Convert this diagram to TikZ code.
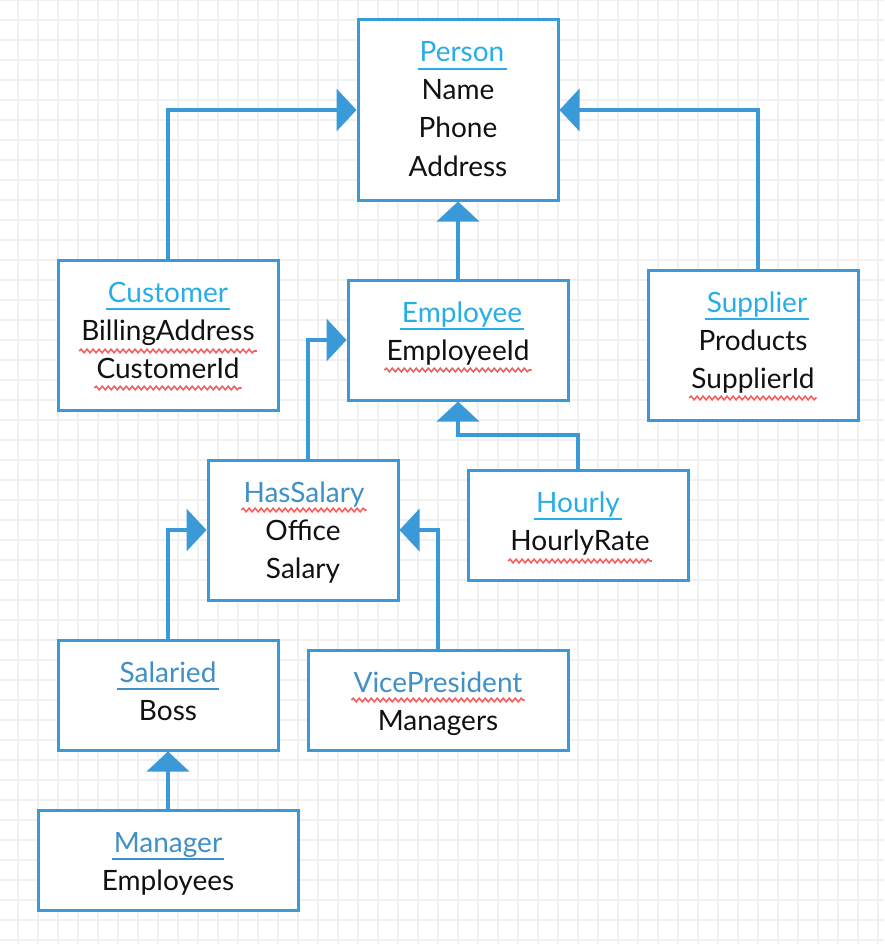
\documentclass[tikz,border=0pt]{standalone}
\usepackage{fontspec}
\setmainfont{Lato}
\usetikzlibrary{arrows.meta,decorations.pathmorphing}
\definecolor{bord}{HTML}{3A9AD8}
\definecolor{cyant}{HTML}{29ADE6}
\definecolor{steelt}{HTML}{4090C8}
\definecolor{gridc}{HTML}{F0F0F0}
\definecolor{wavec}{HTML}{F26262}
\definecolor{txt}{HTML}{111111}
\newcommand\tul[2]{\draw[#2, line width=2.5pt] ([shift={(-2,7)}]#1.base west) -- ([shift={(2,7)}]#1.base east);}
\newcommand\wul[2]{\draw[wavy] ([shift={(-2,#2)}]#1.base west) -- ([shift={(2,#2)}]#1.base east);}
\tikzset{
  x=1pt, y=-1pt,
  box/.style={draw=bord, line width=3pt, fill=white, inner sep=0pt, rectangle},
  conn/.style={draw=bord, line width=4pt, -{Triangle[length=20pt,width=42pt]}},
  lbl/.style={anchor=base, inner sep=0pt, font=\fontsize{28}{32}\selectfont, text=txt},
  tc/.style={lbl, text=cyant},
  ts/.style={lbl, text=steelt},
  wavy/.style={draw=wavec, line width=1.6pt, decorate, decoration={snake, amplitude=1.8pt, segment length=6pt}},
}
\begin{document}
\begin{tikzpicture}
\useasboundingbox (0,0) rectangle (884,944);
\fill[white] (0,0) rectangle (884,944);
\foreach \x in {18,38,...,878} \draw[gridc, line width=1.3pt] (\x,0) -- (\x,944);
\foreach \y in {0,20,...,940} \draw[gridc, line width=1.3pt] (0,\y) -- (884,\y);

% boxes
\node[box, minimum width=200pt, minimum height=180pt] (person) at (458,110) {};
\node[box, minimum width=220pt, minimum height=150pt] (customer) at (168,335) {};
\node[box, minimum width=220pt, minimum height=120pt] (employee) at (458,340) {};
\node[box, minimum width=210pt, minimum height=150pt] (supplier) at (753,345) {};
\node[box, minimum width=220pt, minimum height=110pt] (hourly) at (578,525) {};
\node[box, minimum width=190pt, minimum height=140pt] (hassalary) at (303,530) {};
\node[box, minimum width=220pt, minimum height=110pt] (salaried) at (168,695) {};
\node[box, minimum width=260pt, minimum height=100pt] (vp) at (438,700) {};
\node[box, minimum width=260pt, minimum height=100pt] (manager) at (168,860) {};

% connectors
\draw[conn] (customer.north) |- (person.west);
\draw[conn] ([xshift=5pt]supplier.north) |- (person.east);
\draw[conn] (employee.north) -- (person.south);
\coordinate (hbend) at (578,435);
\draw[conn] (hourly.north) -- (hbend) -| (employee.south);
\draw[conn] ([xshift=5pt]hassalary.north) |- (employee.west);
\draw[conn] (salaried.north) |- (hassalary.west);
\draw[conn] (vp.north) |- (hassalary.east);
\draw[conn] (manager.north) -- (salaried.south);

% Person
\node[tc] (t1) at (462,62) {Person}; \tul{t1}{cyant}
\node[lbl] (p1) at (458,100) {Name};
\node[lbl] (p2) at (458,138) {Phone};
\node[lbl] (p3) at (458,176) {Address};
% Customer
\node[tc] (t2) at (168,302) {Customer}; \tul{t2}{cyant}
\node[lbl] (c1) at (168,340) {BillingAddress}; \wul{c1}{11}
\node[lbl] (c2) at (168,378) {CustomerId}; \wul{c2}{10}
% Employee
\node[tc] (t3) at (462,322) {Employee}; \tul{t3}{cyant}
\node[lbl] (e1) at (458,360) {EmployeeId}; \wul{e1}{10}
% Supplier
\node[tc] (t4) at (757,312) {Supplier}; \tul{t4}{cyant}
\node[lbl] (s1) at (753,350) {Products};
\node[lbl] (s2) at (753,388) {SupplierId}; \wul{s2}{10}
% Hourly
\node[tc] (t5) at (578,512) {Hourly}; \tul{t5}{cyant}
\node[lbl] (h1) at (580,550) {HourlyRate}; \wul{h1}{11}
% HasSalary
\node[ts] (t6) at (304,502) {HasSalary}; \wul{t6}{8}
\node[lbl] (hs1) at (303,540) {Office};
\node[lbl] (hs2) at (303,578) {Salary};
% Salaried
\node[ts] (t7) at (168,682) {Salaried}; \tul{t7}{steelt}
\node[lbl] (sa1) at (168,720) {Boss};
% VicePresident
\node[ts] (t8) at (438,692) {VicePresident}; \wul{t8}{8}
\node[lbl] (v1) at (438,730) {Managers};
% Manager
\node[ts] (t9) at (168,852) {Manager}; \tul{t9}{steelt}
\node[lbl] (m1) at (168,890) {Employees};
\end{tikzpicture}
\end{document}
